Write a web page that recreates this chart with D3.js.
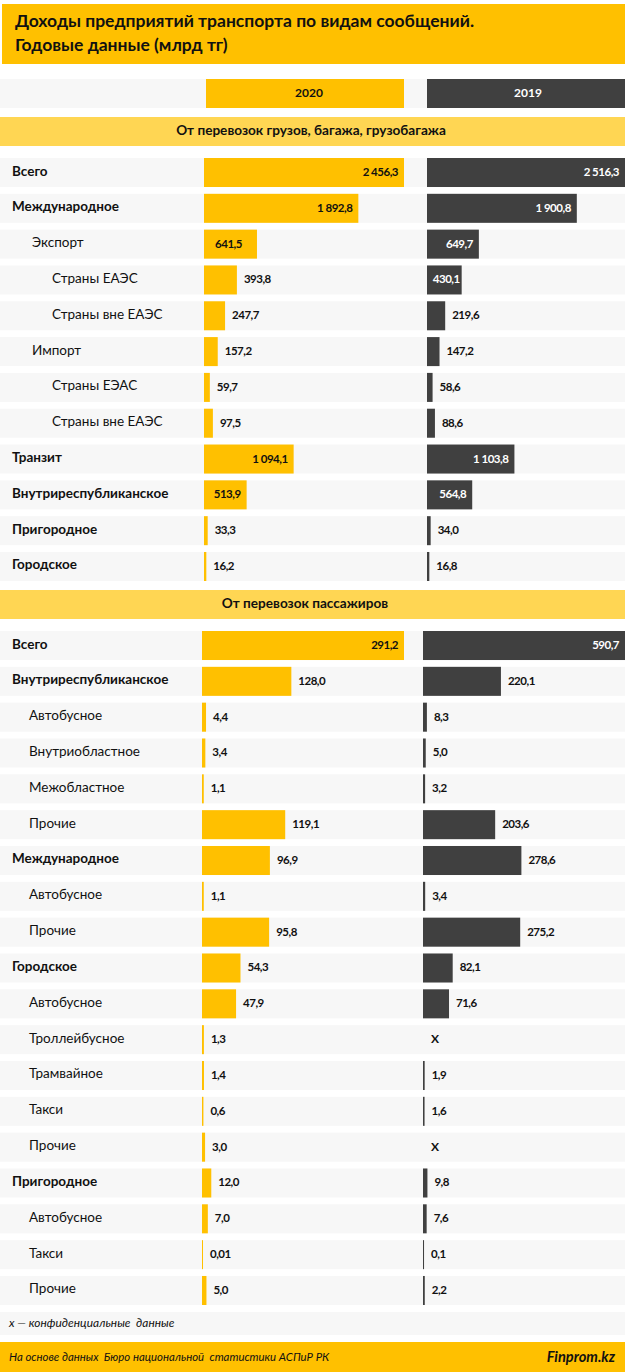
<!DOCTYPE html>
<html>
<head>
<meta charset="utf-8">
<script src="https://cdn.jsdelivr.net/npm/d3@7"></script>
<style>
body { margin: 0; background: #fff; }
svg { display: block; }
text { font-family: Lato, "Open Sans", sans-serif; }
</style>
</head>
<body>
<div class="content"></div>
<script>
var titleLines = ["Доходы предприятий транспорта по видам сообщений.", "Годовые данные (млрд тг)"];
var years = ["2020", "2019"];
var freightTitle = "От перевозок грузов, багажа, грузобагажа";
var passengerTitle = "От перевозок пассажиров";
var noteText = "x — конфиденциальные  данные";
var sourceText = "На основе данных  Бюро национальной  статистики АСПиР РК";
var brandText = "Finprom.kz";

var freightNames = ["Всего", "Международное", "Экспорт", "Страны ЕАЭС", "Страны вне ЕАЭС", "Импорт", "Страны ЕЭАС", "Страны вне ЕАЭС", "Транзит", "Внутриреспубликанское", "Пригородное", "Городское"];
var freightLevels = [0, 0, 1, 2, 2, 1, 2, 2, 0, 0, 0, 0];
var freight2020 = [2456.3, 1892.8, 641.5, 393.8, 247.7, 157.2, 59.7, 97.5, 1094.1, 513.9, 33.3, 16.2];
var freight2019 = [2516.3, 1900.8, 649.7, 430.1, 219.6, 147.2, 58.6, 88.6, 1103.8, 564.8, 34.0, 16.8];

var passengerNames = ["Всего", "Внутриреспубликанское", "Автобусное", "Внутриобластное", "Межобластное", "Прочие", "Международное", "Автобусное", "Прочие", "Городское", "Автобусное", "Троллейбусное", "Трамвайное", "Такси", "Прочие", "Пригородное", "Автобусное", "Такси", "Прочие"];
var passengerLevels = [0, 0, 1, 1, 1, 1, 0, 1, 1, 0, 1, 1, 1, 1, 1, 0, 1, 1, 1];
var passenger2020 = [291.2, 128.0, 4.4, 3.4, 1.1, 119.1, 96.9, 1.1, 95.8, 54.3, 47.9, 1.3, 1.4, 0.6, 3.0, 12.0, 7.0, 0.01, 5.0];
var passenger2019 = [590.7, 220.1, 8.3, 5.0, 3.2, 203.6, 278.6, 3.4, 275.2, 82.1, 71.6, null, 1.9, 1.6, null, 9.8, 7.6, 0.1, 2.2];

var width = 625;
var height = 1372;
var gold = "#ffc000";
var dark = "#404040";
var band = "#ffd653";
var light = "#f7f7f7";
var ink = "#111";

var ru = d3.formatLocale({ decimal: ",", thousands: " ", grouping: [3], currency: ["", ""] });
function fmt(v) {
	return v < 0.1 ? ru.format(".2f")(v) : ru.format(",.1f")(v);
}

var svg = d3.select(".content").append("svg").attr("width", width).attr("height", height);

function box(x, y, w, h, color) {
	svg.append("rect").attr("x", x).attr("y", y).attr("width", w).attr("height", h).attr("fill", color);
}
function label(x, y, str, size, weight, anchor, color, style) {
	return svg.append("text").attr("x", x).attr("y", y).text(str)
		.attr("font-size", size).attr("font-weight", weight || "normal")
		.attr("text-anchor", anchor || "start").attr("fill", color || ink)
		.style("font-style", style || "normal")
		.style("white-space", "pre");
}

// title
box(2, 4, 623, 60, gold);
label(15, 27, titleLines[0], 17.5, "bold");
label(15, 51, titleLines[1], 17.5, "bold");

// year header
box(0, 79, 625, 29, light);
box(206, 79, 198, 29, gold);
box(427, 79, 198, 29, dark);
label(309, 97, years[0], 12, "bold", "middle");
label(528, 97, years[1], 12, "bold", "middle", "#fff");

// inside labels sit a few px off the bar end, two were placed by hand in the original
function insidePad(v) {
	if (v == 641.5) return 15;
	if (v == 430.1) return 2;
	return 6;
}

function drawBars(rows, vals, sc, x0, color, y, insideMin) {
	rows.each(function(d, i) {
		var g = d3.select(this), v = vals[i];
		if (v == null) {
			g.append("text").attr("x", x0 + 8).attr("y", 18).attr("font-size", 12)
				.attr("font-weight", "bold").attr("fill", ink).text("X");
			return;
		}
		g.append("rect").attr("x", x0).attr("height", y.bandwidth())
			.attr("width", sc(v) - x0).attr("fill", color);
		var t = g.append("text").attr("y", 18).attr("font-size", 11.5).attr("font-weight", "bold")
			.attr("letter-spacing", -0.5).attr("fill", ink).text(fmt(v));
		if (v >= insideMin) {
			t.attr("x", sc(v) - insidePad(v)).attr("text-anchor", "end");
			if (color == dark) t.attr("fill", "#fff");
		} else {
			t.attr("x", sc(v) + 7);
		}
	});
}

function section(opt) {
	box(0, opt.bandY, width, 29, band);
	label(opt.titleX, opt.bandY + 18, opt.title, 13.6, "bold", "middle");

	var y = d3.scaleBand().domain(d3.range(opt.names.length)).range(opt.range).paddingInner(0.19);
	var x20 = d3.scaleLinear().domain([0, d3.max(opt.v20)]).range([opt.x20 + 1, 404]);
	// the biggest 2019 passenger bar runs to the edge, the rest are scaled a bit larger
	var x19 = d3.scaleLinear().domain([0, opt.max19 || d3.max(opt.v19)]).range([opt.x19 + 1, 625]).clamp(true);

	var rows = svg.append("g").selectAll("g").data(opt.names).enter().append("g")
		.attr("transform", function(d, i) { return "translate(0," + y(i) + ")"; });

	rows.append("rect").attr("width", width).attr("height", y.bandwidth()).attr("fill", light);

	rows.append("text").attr("x", function(d, i) { return opt.indent[opt.levels[i]]; })
		.attr("y", 17.5).attr("font-size", 13.5).attr("fill", ink)
		.attr("font-weight", function(d, i) { return opt.levels[i] == 0 ? "bold" : "normal"; })
		.text(function(d) { return d; });

	drawBars(rows, opt.v20, x20, opt.x20, gold, y, opt.insideMin);
	drawBars(rows, opt.v19, x19, opt.x19, dark, y, opt.insideMin);
}

section({
	title: freightTitle, titleX: 311, bandY: 117, range: [158, 581],
	names: freightNames, levels: freightLevels, v20: freight2020, v19: freight2019,
	x20: 204, x19: 427, indent: [12, 32, 52], insideMin: 400
});
section({
	title: passengerTitle, titleX: 305, bandY: 590, range: [631, 1305],
	names: passengerNames, levels: passengerLevels, v20: passenger2020, v19: passenger2019,
	x20: 202, x19: 423, indent: [12, 29, 29], insideMin: 290, max19: 575
});

// note and footer
box(0, 1312, 625, 23, light);
label(9, 1327, noteText, 11.9, "normal", "start", ink, "italic");
box(0, 1342, 625, 30, gold);
label(9, 1361, sourceText, 11.4, "normal", "start", ink, "italic");
label(615, 1362, brandText, 14.6, "bold", "end", ink, "italic");
</script>
</body>
</html>
